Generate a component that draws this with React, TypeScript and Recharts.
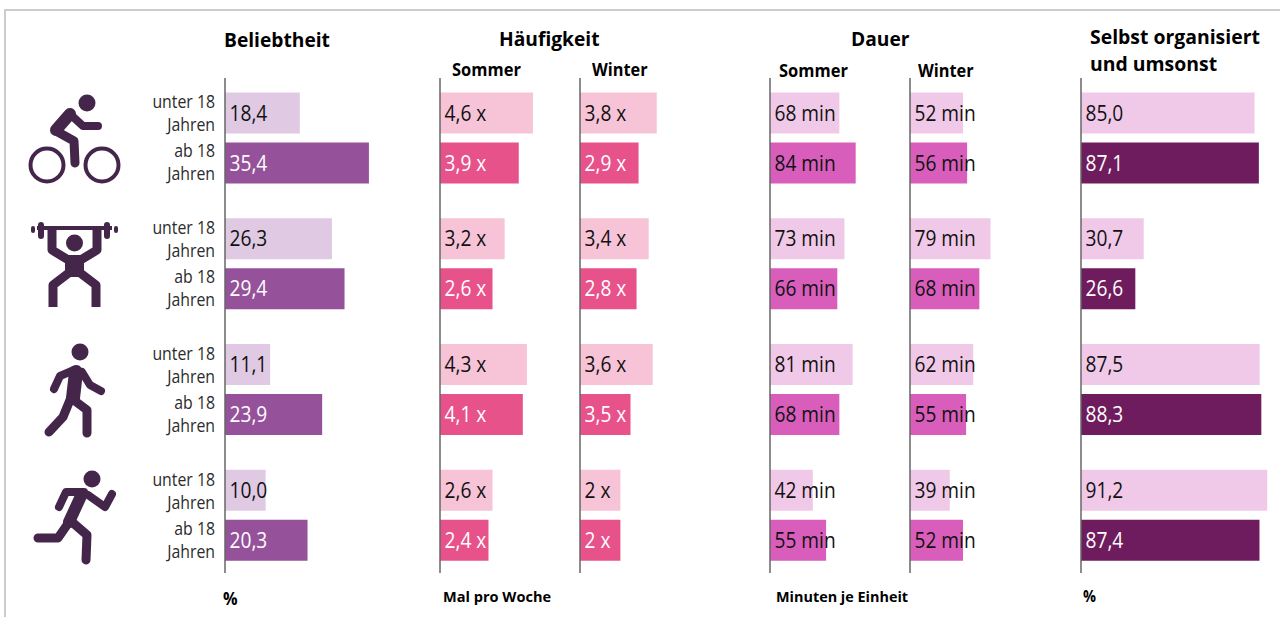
import React from "react";
import { BarChart, Bar, XAxis, YAxis, LabelList } from "recharts";

const activities = ["Radfahren", "Krafttraining", "Gehen", "Laufen"];
const beliebtheitU18 = [18.4, 26.3, 11.1, 10.0];
const beliebtheitAb18 = [35.4, 29.4, 23.9, 20.3];
const haeufigSommerU18 = [4.6, 3.2, 4.3, 2.6];
const haeufigSommerAb18 = [3.9, 2.6, 4.1, 2.4];
const haeufigWinterU18 = [3.8, 3.4, 3.6, 2];
const haeufigWinterAb18 = [2.9, 2.8, 2.5, 2];
const haeufigWinterAb18Printed = [2.9, 2.8, 3.5, 2];
const dauerSommerU18 = [68, 73, 81, 42];
const dauerSommerAb18 = [84, 66, 68, 55];
const dauerWinterU18 = [52, 79, 62, 39];
const dauerWinterAb18 = [56, 68, 55, 52];
const selbstU18 = [85.0, 30.7, 87.5, 91.2];
const selbstAb18 = [87.1, 26.6, 88.3, 87.4];

const FONT = "'Open Sans', 'Noto Sans', sans-serif";
const ICON = "#45264B";
const makeRows = (a: number[], b: number[], printed?: number[]) =>
  activities.map((name, i) => ({ name, u18: a[i], ab18: b[i], ab18Text: (printed || b)[i] }));

const pct = (v: number) => v.toFixed(1).replace(".", ",");
const times = (v: number) => String(v).replace(".", ",") + " x";
const mins = (v: number) => v + " min";

const Ic = ({ d, w }: { d: string; w: number }) => (
  <path d={d} fill="none" stroke={ICON} strokeWidth={w} strokeLinecap="round" strokeLinejoin="round" />
);

const icons = [
  (
    <g key="bike">
      <circle cx={87} cy={103} r={8.5} fill={ICON} />
      <circle cx={47} cy={165} r={16.5} fill="none" stroke={ICON} strokeWidth={4} />
      <circle cx={102} cy={165} r={16.5} fill="none" stroke={ICON} strokeWidth={4} />
      <Ic d="M71 115 L83 126 L98 126" w={8} />
      <Ic d="M70 114 L56 130" w={12} />
      <Ic d="M56 131 L74 141 L75 163" w={9} />
    </g>
  ),
  (
    <g key="lift">
      <path d="M37 228 H112" stroke={ICON} strokeWidth={4} />
      <Ic d="M41 225 V236 M107 225 V236" w={6} />
      <Ic d="M33 228 V231 M116 228 V231" w={4} />
      <circle cx={74.5} cy={243} r={8.5} fill={ICON} />
      <path d="M52 230 V250 L70 261 M97 230 V250 L79 261" fill="none" stroke={ICON} strokeWidth={9} strokeLinejoin="round" />
      <rect x={65} y={255} width={19} height={22} fill={ICON} />
      <path d="M70 272 L53 285 V307 M79 272 L96 285 V307" fill="none" stroke={ICON} strokeWidth={9} strokeLinejoin="round" />
    </g>
  ),
  (
    <g key="walk">
      <circle cx={80} cy={352} r={8.5} fill={ICON} />
      <Ic d="M76 372 L73 398" w={14} />
      <Ic d="M74 370 L60 376 L54 389" w={8} />
      <Ic d="M82 372 L90 385 L101 391" w={8} />
      <Ic d="M70 400 L63 417 L49 432" w={9} />
      <Ic d="M75 401 L87 410 L87 433" w={9} />
    </g>
  ),
  (
    <g key="run">
      <circle cx={92} cy={479} r={8.5} fill={ICON} />
      <Ic d="M81 496 L69 522" w={12} />
      <Ic d="M84 492 L66 492 L59 507" w={8} />
      <Ic d="M88 495 L105 507 L112 494" w={8} />
      <Ic d="M67 525 L58 538 L38 538" w={9} />
      <Ic d="M72 522 L87 535 L86 560" w={9} />
    </g>
  ),
];

const AgeTick = (props: any) => {
  const { y, index } = props;
  const lines = [
    ["unter 18", -37],
    ["Jahren", -14],
    ["ab 18", 12],
    ["Jahren", 35],
  ] as [string, number][];
  return (
    <g>
      {icons[index]}
      {lines.map(([t, dy], i) => (
        <text
          key={i}
          transform={`translate(215 ${y + dy}) scale(0.88 1)`}
          textAnchor="end"
          dominantBaseline="central"
          fontFamily={FONT}
          fontSize={18}
          fill="#2b2b2b"
        >
          {t}
        </text>
      ))}
    </g>
  );
};

const valueLabel = (fmt: (v: number) => string, color: string) => (props: any) => {
  const { x, y, height, value } = props;
  return (
    <text
      transform={`translate(${x + 4.5} ${y + height / 2 - 1}) scale(0.87 1)`}
      dominantBaseline="central"
      fontFamily={FONT}
      fontSize={22}
      fill={color}
    >
      {fmt(value)}
    </text>
  );
};

type PanelProps = {
  left: number;
  width: number;
  max: number;
  a: number[];
  b: number[];
  printed?: number[];
  c1: string;
  c2: string;
  t2: string;
  fmt: (v: number) => string;
  ticks?: boolean;
};

const Panel = ({ left, width, max, a, b, printed, c1, c2, t2, fmt, ticks }: PanelProps) => (
  <div style={{ position: "absolute", left, top: 0 }}>
    <BarChart
      width={width + (ticks ? 225 : 1) + 40}
      height={617}
      layout="vertical"
      data={makeRows(a, b, printed)}
      barSize={41}
      barGap={9}
      margin={{ top: 78, bottom: 44, left: 0, right: 40 }}
    >
      <XAxis type="number" domain={[0, max]} hide />
      <YAxis
        type="category"
        dataKey="name"
        width={ticks ? 225 : 1}
        padding={{ top: -2.5, bottom: -5.5 }}
        axisLine={{ stroke: "#666", strokeWidth: 1.5 }}
        tickLine={false}
        tick={ticks ? <AgeTick /> : false}
        interval={0}
      />
      <Bar dataKey="u18" fill={c1} isAnimationActive={false}>
        <LabelList dataKey="u18" content={valueLabel(fmt, "#111")} />
      </Bar>
      <Bar dataKey="ab18" fill={c2} isAnimationActive={false}>
        <LabelList dataKey="ab18Text" content={valueLabel(fmt, t2)} />
      </Bar>
    </BarChart>
  </div>
);

const Cap = ({ x, y, size, sx = 0.96, bold = true, children }: any) => (
  <div
    style={{
      position: "absolute",
      left: x,
      top: y - size,
      height: size * 2,
      lineHeight: `${size * 2}px`,
      fontFamily: FONT,
      fontSize: size,
      fontWeight: bold ? 700 : 400,
      color: "#000",
      whiteSpace: "nowrap",
      transform: `scaleX(${sx})`,
      transformOrigin: "left center",
    }}
  >
    {children}
  </div>
);

export default function App() {
  return (
    <div style={{ position: "absolute", left: 0, top: 0, width: 1280, height: 617, overflow: "hidden", background: "#fff" }}>
      <div style={{ position: "absolute", left: 4, top: 9, width: 1290, height: 620, borderTop: "2px solid #ccc", borderLeft: "2px solid #ccc" }} />

      <Panel left={0} width={161} max={39.6} a={beliebtheitU18} b={beliebtheitAb18} c1="#E0C9E3" c2="#95529B" t2="#fff" fmt={pct} ticks />
      <Panel left={439} width={101} max={5} a={haeufigSommerU18} b={haeufigSommerAb18} c1="#F7C3D7" c2="#E8528A" t2="#fff" fmt={times} />
      <Panel left={579} width={101} max={5} a={haeufigWinterU18} b={haeufigWinterAb18} printed={haeufigWinterAb18Printed} c1="#F7C3D7" c2="#E8528A" t2="#fff" fmt={times} />
      <Panel left={769} width={102} max={100} a={dauerSommerU18} b={dauerSommerAb18} c1="#F1C9E8" c2="#D95EBC" t2="#111" fmt={mins} />
      <Panel left={909} width={102} max={100} a={dauerWinterU18} b={dauerWinterAb18} c1="#F1C9E8" c2="#D95EBC" t2="#111" fmt={mins} />
      <Panel left={1080} width={194} max={95} a={selbstU18} b={selbstAb18} c1="#F1C9E8" c2="#6F1C5E" t2="#fff" fmt={pct} />

      <Cap x={224} y={40} size={20}>Beliebtheit</Cap>
      <Cap x={499} y={39} size={20}>Häufigkeit</Cap>
      <Cap x={851} y={39} size={20}>Dauer</Cap>
      <Cap x={1090} y={37} size={20} sx={0.97}>Selbst organisiert</Cap>
      <Cap x={1090} y={64} size={20} sx={0.97}>und umsonst</Cap>
      <Cap x={452} y={70} size={17} sx={0.97}>Sommer</Cap>
      <Cap x={592} y={70} size={17}>Winter</Cap>
      <Cap x={779} y={71} size={17} sx={0.97}>Sommer</Cap>
      <Cap x={918} y={71} size={17}>Winter</Cap>
      <Cap x={223} y={598} size={18} sx={0.9}>%</Cap>
      <Cap x={443} y={596} size={15} sx={0.97}>Mal pro Woche</Cap>
      <Cap x={776} y={596} size={15} sx={0.96}>Minuten je Einheit</Cap>
      <Cap x={1083} y={596} size={16} sx={0.9}>%</Cap>
    </div>
  );
}
